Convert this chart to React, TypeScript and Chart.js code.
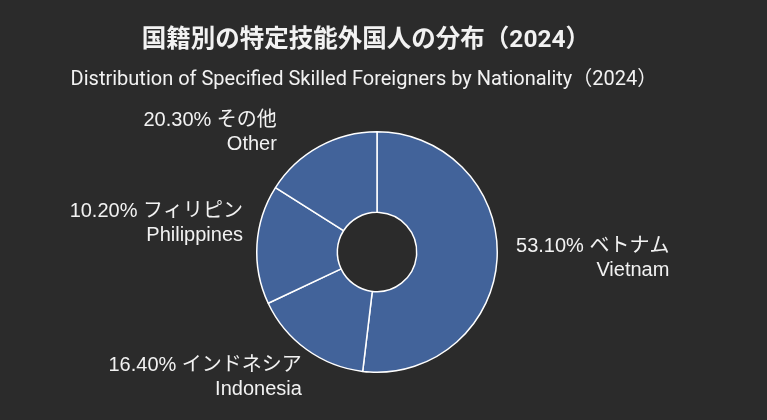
import { useEffect, useRef } from "react";
import { Chart, registerables, Plugin } from "chart.js";

Chart.register(...registerables);

const TITLE = "国籍別の特定技能外国人の分布（2024）";
const SUBTITLE = "Distribution of Specified Skilled Foreigners by Nationality（2024）";

// order: clockwise from 12 o'clock
const namesJa = ["ベトナム", "インドネシア", "フィリピン", "その他"];
const namesEn = ["Vietnam", "Indonesia", "Philippines", "Other"];
const percentLabels = ["53.10%", "16.40%", "10.20%", "20.30%"];
// slice sizes as drawn in the picture
const sliceValues = [51.9, 16.1, 16.0, 16.0];

const BG = "#2b2b2b";
const SLICE = "#42639a";
const TEXT = "#f2f2f2";

// small nudges so labels sit where the reference puts them
const labelNudge = [
  [4, -2],
  [4, 16],
  [1, -20],
  [-35, -1],
];

const backgroundPlugin: Plugin = {
  id: "bg",
  beforeDraw(chart) {
    const { ctx, width, height } = chart;
    ctx.save();
    ctx.fillStyle = BG;
    ctx.fillRect(0, 0, width, height);
    ctx.restore();
  },
};

const titlePlugin: Plugin = {
  id: "titles",
  afterDraw(chart) {
    const { ctx, width } = chart;
    const cx = width * 0.4745;
    ctx.save();
    ctx.fillStyle = TEXT;
    ctx.textAlign = "center";
    ctx.textBaseline = "alphabetic";
    ctx.font = "bold 24.5px Roboto, 'Noto Sans CJK JP', sans-serif";
    ctx.fillText(TITLE, cx + 2, 47);
    ctx.font = "20px Roboto, 'Noto Sans CJK JP', sans-serif";
    ctx.fillText(SUBTITLE, cx, 85);
    ctx.restore();
  },
};

const labelPlugin: Plugin = {
  id: "sliceLabels",
  afterDatasetsDraw(chart) {
    const { ctx } = chart;
    const meta = chart.getDatasetMeta(0);
    ctx.save();
    ctx.fillStyle = TEXT;
    ctx.font = "20px 'Liberation Sans', 'Noto Sans CJK JP', sans-serif";
    ctx.textBaseline = "middle";
    ctx.textAlign = "right";
    meta.data.forEach((el: any, i: number) => {
      const { x, y, startAngle, endAngle, outerRadius } = el.getProps(
        ["x", "y", "startAngle", "endAngle", "outerRadius"],
        true
      );
      const mid = (startAngle + endAngle) / 2;
      const r = outerRadius + 15;
      const ax = x + Math.cos(mid) * r + labelNudge[i][0];
      const ay = y + Math.sin(mid) * r + labelNudge[i][1];
      const line1 = `${percentLabels[i]} ${namesJa[i]}`;
      const line2 = namesEn[i];
      const w = Math.max(ctx.measureText(line1).width, ctx.measureText(line2).width);
      const right = Math.cos(mid) >= 0 ? ax + w : ax;
      ctx.fillText(line1, right, ay - 12);
      ctx.fillText(line2, right, ay + 12);
    });
    ctx.restore();
  },
};

export default function App() {
  const canvasRef = useRef<HTMLCanvasElement | null>(null);

  useEffect(() => {
    document.body.style.margin = "0";
    const canvas = canvasRef.current;
    if (!canvas) return;

    const chart = new Chart(canvas, {
      type: "doughnut",
      data: {
        labels: namesEn,
        datasets: [
          {
            data: sliceValues,
            backgroundColor: SLICE,
            borderColor: "#ffffff",
            borderWidth: 1.5,
            hoverOffset: 0,
          },
        ],
      },
      options: {
        responsive: true,
        maintainAspectRatio: false,
        animation: false,
        cutout: "33%",
        layout: {
          padding: { top: 131, bottom: 47, left: 200, right: 213 },
        },
        plugins: {
          legend: { display: false },
          title: { display: false },
          tooltip: { enabled: false },
        },
      },
      plugins: [backgroundPlugin, labelPlugin, titlePlugin],
    });

    return () => {
      chart.destroy();
    };
  }, []);

  return (
    <div style={{ width: 767, height: 420, background: BG }}>
      <canvas ref={canvasRef} />
    </div>
  );
}
